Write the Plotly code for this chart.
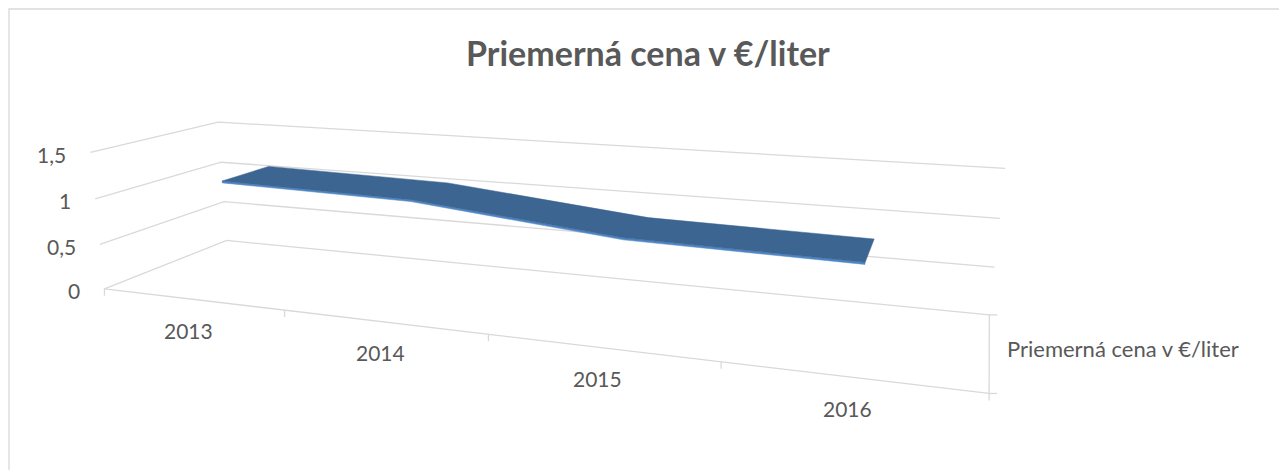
import numpy as np
import plotly.graph_objects as go

# ---------------- data ----------------
years = ["2013", "2014", "2015", "2016"]
prices = [1.14, 1.10, 0.89, 0.855]
value_ticks = [0, 0.5, 1.0, 1.5]
value_tick_labels = ["0", "0,5", "1", "1,5"]
series_name = "Priemerná cena v €/liter"
chart_title = "Priemerná cena v €/liter"

# ---------------- perspective camera (world: u=category, v=value, w=depth 0 front..1 back) ----------------
CAMERA = np.array([
    [163.57, -11.209, 158.75, 104.42],
    [3.2576, -94.115, -9.823, 288.79],
    [-0.058231, -0.020909, 0.16027, 1.0],
])


def proj(u, v, w):
    h = CAMERA @ np.array([u, v, w, 1.0])
    return h[0] / h[2], h[1] / h[2]


GRID = "#d9d9d9"
TXT = "#595959"
TOP_COLOR = "#3c6591"
EDGE_COLOR = "#4f86c6"
W_FRONT, W_BACK = 0.30, 0.70
fig = go.Figure()


def seg(pts, color=GRID, width=1.3):
    xs, ys = zip(*pts)
    fig.add_trace(go.Scatter(x=xs, y=ys, mode="lines", line=dict(color=color, width=width),
                             hoverinfo="skip", showlegend=False))


n = len(years)
# gridlines on side wall and back wall
for v in value_ticks:
    seg([proj(0, v, 0), proj(0, v, 1), proj(n, v, 1)])
# category axis (front floor edge) and depth axis
seg([proj(0, 0, 0), proj(n, 0, 0)])
seg([proj(n, 0, 0), proj(n, 0, 1)])
for i in range(n + 1):
    x0, y0 = proj(i, 0, 0)
    seg([(x0, y0), (x0, y0 + 7)])
for w in (0, 1):
    x0, y0 = proj(n, 0, w)
    seg([(x0, y0), (x0 + 8, y0)])

# 3D ribbon
uc = [i + 0.5 for i in range(n)]
front = [proj(u, v, W_FRONT) for u, v in zip(uc, prices)]
front_low = [proj(u, v - 0.02, W_FRONT) for u, v in zip(uc, prices)]
back = [proj(u, v, W_BACK) for u, v in zip(uc, prices)]


def polygon(pts, color):
    pts = pts + [pts[0]]
    fig.add_trace(go.Scatter(x=[q[0] for q in pts], y=[q[1] for q in pts], fill="toself",
                             fillcolor=color, mode="lines", line=dict(width=0.5, color=color),
                             hoverinfo="skip", showlegend=False))


polygon(front_low + front[::-1], EDGE_COLOR)
polygon(front + back[::-1], TOP_COLOR)

ann = []
for v, lab in zip(value_ticks, value_tick_labels):
    x0, y0 = proj(0, v, 0)
    ann.append(dict(x=x0 - 22, y=y0 + 2, text=lab, xanchor="right", yanchor="middle", showarrow=False,
                    font=dict(family="Lato", size=21, color=TXT)))
for u, lab in zip(uc, years):
    x0, y0 = proj(u, 0, 0)
    ann.append(dict(x=x0 - 3, y=y0 + 31, text=lab, xanchor="center", yanchor="middle", showarrow=False,
                    font=dict(family="Lato", size=21, color=TXT)))
x0, y0 = proj(n, 0, 0.5)
ann.append(dict(x=x0 + 16, y=y0 - 2, text=series_name, xanchor="left", yanchor="middle", showarrow=False,
                font=dict(family="Lato", size=22, color=TXT)))
ann.append(dict(x=648, y=52, text="<b>" + chart_title + "</b>", xanchor="center", yanchor="middle",
                showarrow=False, font=dict(family="Lato", size=34, color=TXT)))

fig.update_layout(
    width=1279, height=470, margin=dict(l=0, r=0, t=0, b=0),
    paper_bgcolor="white", plot_bgcolor="white",
    xaxis=dict(range=[0, 1279], visible=False, fixedrange=True),
    yaxis=dict(range=[470, 0], visible=False, fixedrange=True),
    annotations=ann,
    shapes=[dict(type="rect", xref="x", yref="y", x0=9, y0=9, x1=1300, y1=500,
                 line=dict(color=GRID, width=1.3))],
)
fig.write_html("out.html")
